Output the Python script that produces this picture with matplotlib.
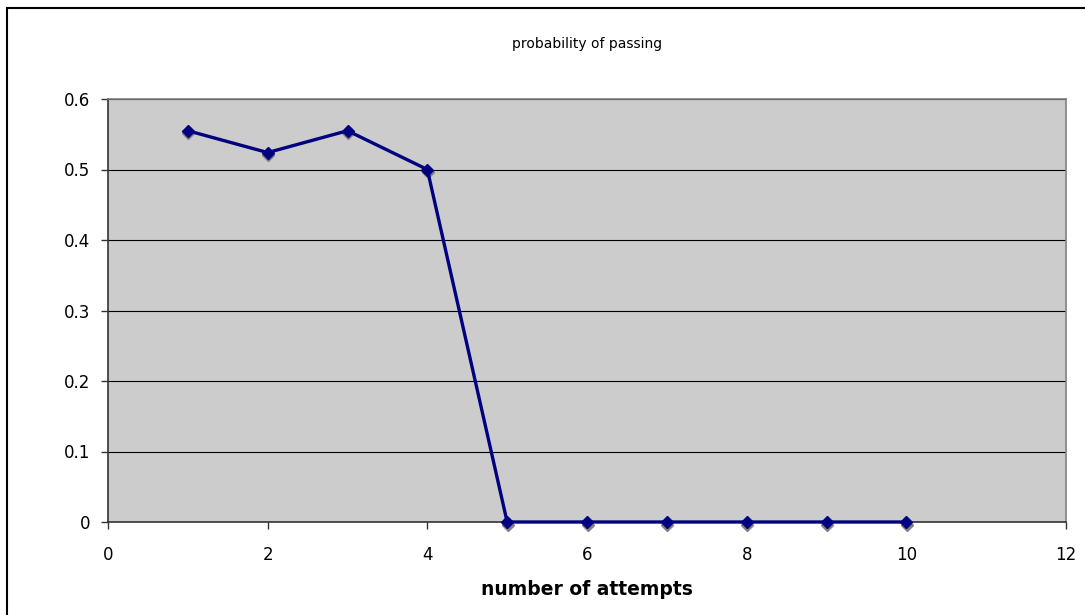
import matplotlib
matplotlib.use("Agg")
import matplotlib.pyplot as plt
import matplotlib.transforms as mtransforms
from matplotlib.patches import Rectangle

attempts = [1, 2, 3, 4, 5, 6, 7, 8, 9, 10]
prob_pass = [0.555, 0.524, 0.555, 0.5, 0, 0, 0, 0, 0, 0]
x_ticks = [0, 2, 4, 6, 8, 10, 12]
y_ticks = [0, 0.1, 0.2, 0.3, 0.4, 0.5, 0.6]
y_labels = ["0", "0.1", "0.2", "0.3", "0.4", "0.5", "0.6"]

fig = plt.figure(figsize=(10.85, 6.15), dpi=100)
fig.patch.set_facecolor("white")
# outer chart border, runs off the right and bottom edges
fig.patches.append(Rectangle((7 / 1085, -0.05), 1.2, 1 - 8 / 615 + 0.05,
                             transform=fig.transFigure, fill=False,
                             edgecolor="black", linewidth=1.5))

ax = fig.add_axes([108 / 1085, 1 - 522 / 615, (1066 - 108) / 1085, (522 - 99) / 615])
ax.set_facecolor("#cccccc")
ax.set_xlim(0, 12)
ax.set_ylim(0, 0.6)
ax.set_xticks(x_ticks)
ax.set_yticks(y_ticks)
ax.set_yticklabels(y_labels)
ax.yaxis.grid(True, color="black", linewidth=0.8)
ax.set_axisbelow(True)

for s in ["top", "right"]:
    ax.spines[s].set_color("#808080")
    ax.spines[s].set_linewidth(1.2)
for s in ["left", "bottom"]:
    ax.spines[s].set_color("#333333")
    ax.spines[s].set_linewidth(1.2)

ax.tick_params(axis="both", direction="out", length=5, width=1, color="#333333",
               labelsize=12, pad=8)
ax.tick_params(axis="x", pad=12)

# drop shadow under markers
shadow = mtransforms.offset_copy(ax.transData, fig=fig, x=0.4, y=-1.8, units="points")
ax.plot(attempts, prob_pass, linestyle="none", marker="D", markersize=6,
        color="#808080", transform=shadow, clip_on=False, zorder=3)
ax.plot(attempts, prob_pass, color="#000080", linewidth=2.4, marker="D",
        markersize=6, clip_on=False, zorder=4)

fig.text(587 / 1085, 1 - 44 / 615, "probability of passing", ha="center",
         va="center", fontsize=10)
ax.set_xlabel("number of attempts", fontsize=13.5, fontweight="bold", labelpad=12)

fig.savefig("out.png", dpi=100)
